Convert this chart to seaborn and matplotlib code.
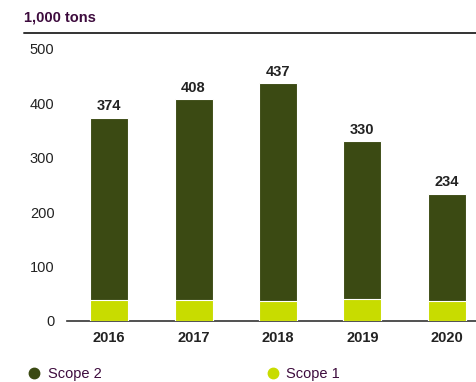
import matplotlib
matplotlib.use("Agg")
import matplotlib.pyplot as plt
from matplotlib.lines import Line2D
import pandas as pd
import seaborn as sns

# === Данные ===
years = ["2016", "2017", "2018", "2019", "2020"]
totals = [374, 408, 437, 330, 234]
scope1 = [39, 39, 37, 41, 37]

DARK = "#3b4a13"
LIME = "#c8dc00"
PURPLE = "#3d0b3d"
TEXT = "#222222"

df = pd.DataFrame({"year": years, "total": totals, "scope1": scope1})

sns.set_theme(style="white")
plt.rcParams["font.family"] = ["Liberation Sans", "DejaVu Sans"]

fig = plt.figure(figsize=(4.77, 3.82), dpi=100)
ax = fig.add_axes([67 / 477, 1 - 321 / 382, 1 - 67 / 477, (321 - 49) / 382])

# Scope 2 рисуем как общий столбец, Scope 1 поверх снизу
sns.barplot(data=df, x="year", y="total", color=DARK, saturation=1,
            width=0.45, edgecolor="white", linewidth=0.8, ax=ax)
sns.barplot(data=df, x="year", y="scope1", color=LIME, saturation=1,
            width=0.45, edgecolor="white", linewidth=0.8, ax=ax)

for i, v in enumerate(totals):
    ax.text(i, v + 8, str(v), ha="center", va="bottom", fontsize=10.5,
            fontweight="bold", color=TEXT)

ax.set_ylim(0, 500)
ax.set_xlim(-0.5, 4.36)
ax.set_yticks([0, 100, 200, 300, 400, 500])
ax.set_xlabel("")
ax.set_ylabel("")
ax.tick_params(axis="y", length=0, pad=9, labelsize=10.5, labelcolor=TEXT)
ax.tick_params(axis="x", length=0, pad=7, labelsize=10.5, labelcolor=TEXT)
for lbl in ax.get_xticklabels():
    lbl.set_fontweight("bold")

for s in ["top", "right", "left"]:
    ax.spines[s].set_visible(False)
ax.spines["bottom"].set_color("#333333")
ax.spines["bottom"].set_linewidth(1.2)
ax.spines["bottom"].set_zorder(0)

# Заголовок и линия под ним
fig.text(24 / 477, 1 - 18 / 382, "1,000 tons", fontsize=10.5, fontweight="bold",
         color=PURPLE, va="center", ha="left")
fig.add_artist(Line2D([24 / 477, 1], [1 - 33 / 382, 1 - 33 / 382],
                      color="#333333", linewidth=1.4))

# Легенда
handles = [
    Line2D([], [], marker="o", linestyle="", color=DARK, markersize=7.5, label="Scope 2"),
    Line2D([], [], marker="o", linestyle="", color=LIME, markersize=7.5, label="Scope 1"),
]
leg = fig.legend(handles=handles, loc="center left", ncol=2,
                 bbox_to_anchor=(27 / 477, 1 - 374 / 382), frameon=False,
                 fontsize=10.5, handletextpad=0.45, columnspacing=11.2,
                 handlelength=1.0, borderpad=0, borderaxespad=0)
for t in leg.get_texts():
    t.set_color(PURPLE)

fig.savefig("out.png", dpi=100)
